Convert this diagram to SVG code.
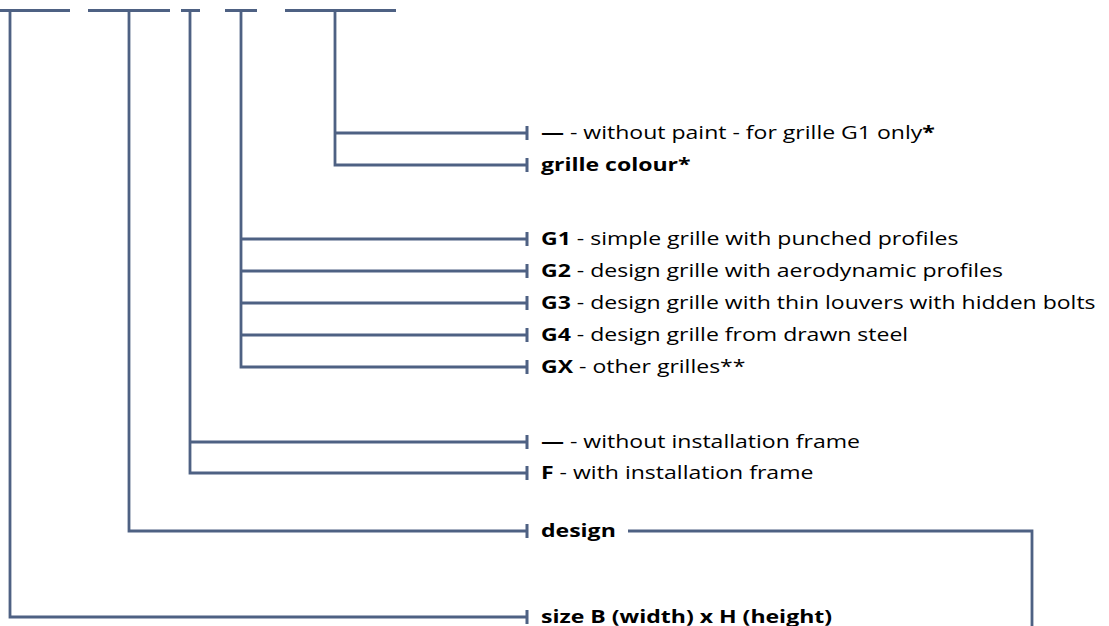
<svg xmlns="http://www.w3.org/2000/svg" width="1109" height="626" viewBox="0 0 1109 626">
<style>
.c{fill:none;stroke:#4E6183;stroke-width:2.8}
.t{font-family:"Open Sans","Liberation Sans",sans-serif;font-size:18px;fill:#000}
.b{font-weight:bold}
</style>
<defs>
<marker id="tick" markerUnits="userSpaceOnUse" markerWidth="4" markerHeight="16" refX="2" refY="8" orient="auto">
<rect x="0.5" y="1" width="3" height="14" fill="#4E6183"/>
</marker>
</defs>
<rect width="1109" height="626" fill="#fff"/>
<g id="connectors">
<path class="c" d="M0 10.5H70M88 10.5H170M181 10.5H200M225 10.5H257M285 10.5H396"/>
<path class="c" d="M335 10V165H527" marker-end="url(#tick)"/>
<path class="c" d="M335 133H527" marker-end="url(#tick)"/>
<path class="c" d="M241 10V367H527" marker-end="url(#tick)"/>
<path class="c" d="M241 239H527" marker-end="url(#tick)"/>
<path class="c" d="M241 271H527" marker-end="url(#tick)"/>
<path class="c" d="M241 303H527" marker-end="url(#tick)"/>
<path class="c" d="M241 335H527" marker-end="url(#tick)"/>
<path class="c" d="M190 10V473H527" marker-end="url(#tick)"/>
<path class="c" d="M190 442H527" marker-end="url(#tick)"/>
<path class="c" d="M129 10V531H527" marker-end="url(#tick)"/>
<path class="c" d="M10 10V617H527" marker-end="url(#tick)"/>
<path class="c" d="M628 531H1032V626"/>
</g>
<g id="labels" transform="matrix(1.28,0,0,1,-151.48,0)">
<g id="colour-none"><text class="t" x="541" y="139.5"><tspan class="b">—</tspan> - without paint - for grille G1 only<tspan class="b">*</tspan></text></g>
<g id="colour"><text class="t b" x="541" y="171.5">grille colour*</text></g>
<g id="g1"><text class="t" x="541" y="245.5"><tspan class="b">G1</tspan> - simple grille with punched profiles</text></g>
<g id="g2"><text class="t" x="541" y="277.5"><tspan class="b">G2</tspan> - design grille with aerodynamic profiles</text></g>
<g id="g3"><text class="t" x="541" y="309.5"><tspan class="b">G3</tspan> - design grille with thin louvers with hidden bolts</text></g>
<g id="g4"><text class="t" x="541" y="341.5"><tspan class="b">G4</tspan> - design grille from drawn steel</text></g>
<g id="gx"><text class="t" x="541" y="373.5"><tspan class="b">GX</tspan> - other grilles**</text></g>
<g id="frame-none"><text class="t" x="541" y="448.5"><tspan class="b">—</tspan> - without installation frame</text></g>
<g id="frame"><text class="t" x="541" y="479.5"><tspan class="b">F</tspan> - with installation frame</text></g>
<g id="design"><text class="t b" x="541" y="537.5">design</text></g>
<g id="size"><text class="t b" x="541" y="623">size B (width) x H (height)</text></g>
</g>
</svg>
